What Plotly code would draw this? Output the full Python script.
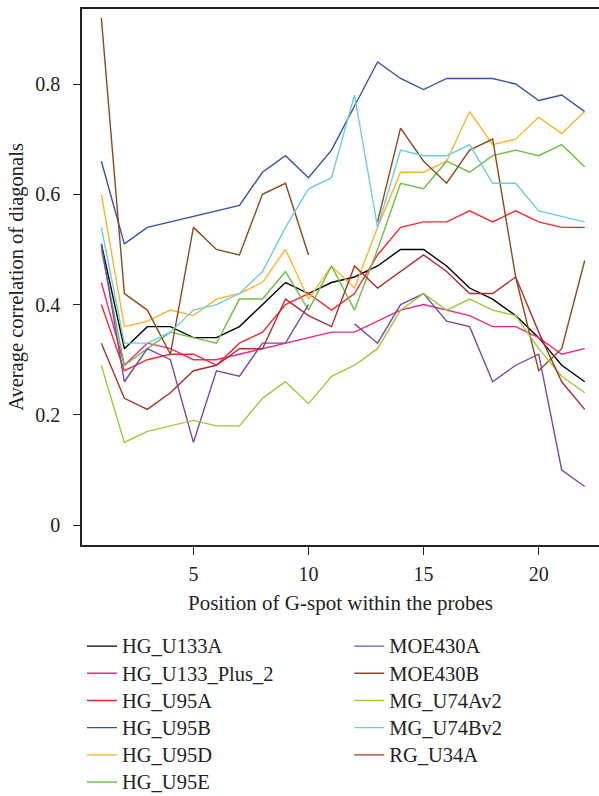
import plotly.graph_objects as go

positions = list(range(1, 23))

HG_U133A = [0.51, 0.32, 0.36, 0.36, 0.34, 0.34, 0.36, 0.40, 0.44, 0.42, 0.44, 0.45, 0.47, 0.50, 0.50, 0.47, 0.43, 0.41, 0.38, 0.34, 0.29, 0.26]
HG_U133_Plus_2 = [0.44, 0.29, 0.33, 0.32, 0.30, 0.30, 0.31, 0.32, 0.33, 0.34, 0.35, 0.35, 0.37, 0.39, 0.40, 0.39, 0.38, 0.36, 0.36, 0.34, 0.31, 0.32]
HG_U95A = [0.40, 0.28, 0.30, 0.31, 0.31, 0.29, 0.33, 0.35, 0.40, 0.42, 0.39, 0.42, 0.49, 0.54, 0.55, 0.55, 0.57, 0.55, 0.57, 0.55, 0.54, 0.54]
HG_U95B = [0.66, 0.51, 0.54, 0.55, 0.56, 0.57, 0.58, 0.64, 0.67, 0.63, 0.68, 0.76, 0.84, 0.81, 0.79, 0.81, 0.81, 0.81, 0.80, 0.77, 0.78, 0.75]
HG_U95D = [0.60, 0.36, 0.37, 0.39, 0.38, 0.41, 0.42, 0.44, 0.50, 0.41, 0.47, 0.43, 0.54, 0.64, 0.64, 0.66, 0.75, 0.69, 0.70, 0.74, 0.71, 0.75]
HG_U95E = [0.50, 0.29, 0.32, 0.35, 0.34, 0.33, 0.41, 0.41, 0.46, 0.39, 0.47, 0.39, 0.50, 0.62, 0.61, 0.66, 0.64, 0.67, 0.68, 0.67, 0.69, 0.65]
MOE430A = [0.51, 0.26, 0.32, 0.30, 0.15, 0.28, 0.27, 0.33, 0.33, 0.40, None, 0.365, 0.33, 0.40, 0.42, 0.37, 0.36, 0.26, 0.29, 0.31, 0.10, 0.07]
MOE430B = [0.92, 0.42, 0.39, 0.31, 0.54, 0.50, 0.49, 0.60, 0.62, 0.49, None, None, 0.55, 0.72, 0.66, 0.62, 0.68, 0.70, 0.45, 0.28, 0.32, 0.48]
MG_U74Av2 = [0.29, 0.15, 0.17, 0.18, 0.19, 0.18, 0.18, 0.23, 0.26, 0.22, 0.27, 0.29, 0.32, 0.39, 0.42, 0.39, 0.41, 0.39, 0.38, 0.32, 0.27, 0.24]
MG_U74Bv2 = [0.54, 0.33, 0.33, 0.35, 0.39, 0.40, 0.42, 0.46, 0.54, 0.61, 0.63, 0.78, 0.54, 0.68, 0.67, 0.67, 0.69, 0.62, 0.62, 0.57, 0.56, 0.55]
RG_U34A = [0.33, 0.23, 0.21, 0.24, 0.28, 0.29, 0.32, 0.32, 0.41, 0.38, 0.36, 0.47, 0.43, 0.46, 0.49, 0.46, 0.42, 0.42, 0.45, 0.35, 0.26, 0.21]

series_names = ["HG_U133A", "HG_U133_Plus_2", "HG_U95A", "HG_U95B", "HG_U95D", "HG_U95E",
                "MOE430A", "MOE430B", "MG_U74Av2", "MG_U74Bv2", "RG_U34A"]
series_values = [HG_U133A, HG_U133_Plus_2, HG_U95A, HG_U95B, HG_U95D, HG_U95E,
                 MOE430A, MOE430B, MG_U74Av2, MG_U74Bv2, RG_U34A]
colors = ["#000000", "#F0287F", "#F52A2E", "#3552A6", "#FDB32C", "#6CBE45",
          "#7448AE", "#8B4A1C", "#9CCB35", "#6CCEDC", "#A8302F"]

x_ticks = [5, 10, 15, 20]
y_ticks = [0, 0.2, 0.4, 0.6, 0.8]
y_tick_labels = ["0", "0.2", "0.4", "0.6", "0.8"]

FONT = "Liberation Serif"
TXT = "#222222"

fig = go.Figure()
for i, (name, vals, col) in enumerate(zip(series_names, series_values, colors)):
    fig.add_trace(go.Scatter(
        x=positions, y=vals, mode="lines",
        name='<span style="font-size:20.5px">' + name + '</span>',
        line=dict(color=col, width=1.4),
        connectgaps=False,
        legend="legend" if i < 6 else "legend2",
    ))

legend_common = dict(
    font=dict(family=FONT, size=18.6, color=TXT),
    bgcolor="rgba(0,0,0,0)",
    tracegroupgap=0,
    xanchor="left", yanchor="top",
    itemwidth=30,
)

fig.update_layout(
    width=599, height=796,
    margin=dict(l=82, r=0, t=9, b=251, autoexpand=False),
    paper_bgcolor="white", plot_bgcolor="white",
    font=dict(family=FONT, size=18, color=TXT),
    showlegend=True,
    legend=dict(x=0.0, y=-0.154, **legend_common),
    legend2=dict(x=0.517, y=-0.154, **legend_common),
    xaxis=dict(
        range=[0.16, 22.62],
        tickvals=x_ticks,
        ticks="outside", ticklen=8, tickwidth=1.2, tickcolor=TXT,
        ticklabelstandoff=2,
        showline=True, linecolor=TXT, linewidth=1.5, mirror=True,
        showgrid=False, zeroline=False, automargin=False,
        tickfont=dict(family=FONT, size=20, color=TXT),
        title=dict(text="Position of G-spot within the probes",
                   font=dict(family=FONT, size=21, color=TXT), standoff=12),
    ),
    yaxis=dict(
        range=[-0.036, 0.936],
        tickvals=y_ticks, ticktext=y_tick_labels,
        ticks="outside", ticklen=7, tickwidth=1.2, tickcolor=TXT,
        ticklabelstandoff=9,
        showline=True, linecolor=TXT, linewidth=1.5, mirror=False,
        showgrid=False, zeroline=False, automargin=False,
        tickfont=dict(family=FONT, size=20, color=TXT),
        title=dict(text="Average correlation of diagonals",
                   font=dict(family=FONT, size=20.5, color=TXT), standoff=6),
    ),
)

fig.write_html("out.html", config={"displayModeBar": False},
               post_script="document.body.style.margin='0px';")
